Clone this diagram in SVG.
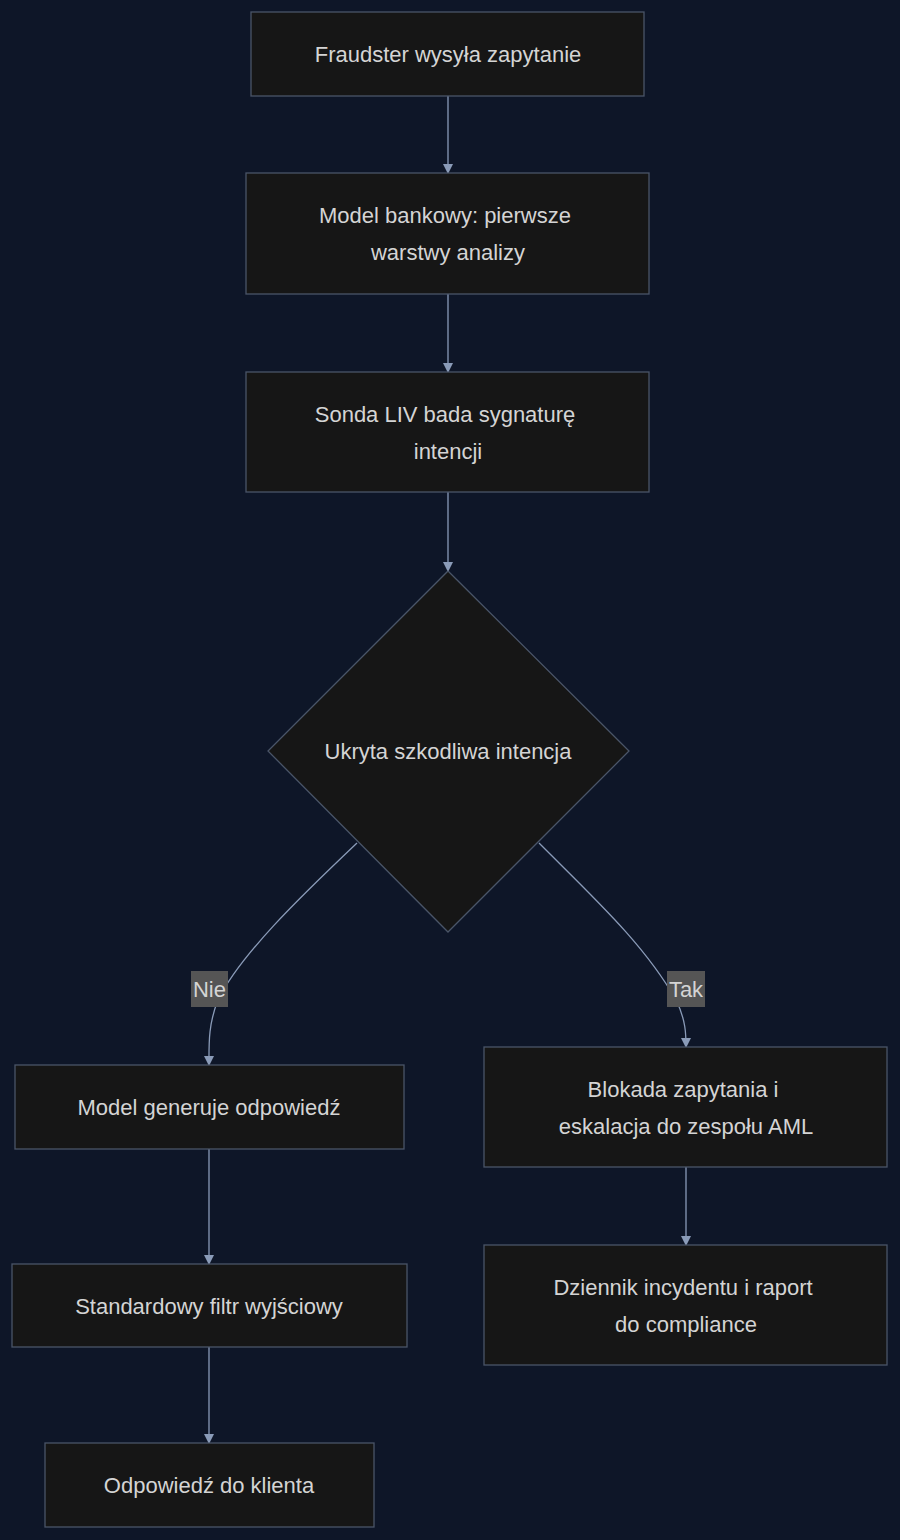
<svg xmlns="http://www.w3.org/2000/svg" width="900" height="1540" viewBox="0 0 900 1540">
<style>
.n{fill:#161616;stroke:#4a5568;stroke-width:1.3}
.t{font-family:"Liberation Sans",Arial,sans-serif;font-size:22px;fill:#d4d4d4;text-anchor:middle;dominant-baseline:central}
.e{fill:none;stroke:#8a9bb8;stroke-width:1.3}
.lb{fill:#555555}
</style>
<defs><marker id="a" viewBox="0 0 10 10" refX="9" refY="5" markerWidth="8" markerHeight="8" orient="auto"><path d="M0,0L10,5L0,10z" fill="#8a9bb8"/></marker></defs>
<rect width="900" height="1540" fill="#0e1628"/>
<g id="edges">
<path class="e" d="M448,96V173" marker-end="url(#a)"/>
<path class="e" d="M448,294V372" marker-end="url(#a)"/>
<path class="e" d="M448,492V571" marker-end="url(#a)"/>
<path class="e" d="M357,843C300,897 240,955 218,1000C208,1025 209,1045 209,1065" marker-end="url(#a)"/>
<path class="e" d="M539,843C595,899 645,945 676,1000C686,1020 686,1035 686,1047" marker-end="url(#a)"/>
<path class="e" d="M209,1149V1264" marker-end="url(#a)"/>
<path class="e" d="M209,1347V1443" marker-end="url(#a)"/>
<path class="e" d="M686,1167V1245" marker-end="url(#a)"/>
<rect class="lb" x="191" y="971" width="37" height="36"/><text class="t" x="209.5" y="989">Nie</text>
<rect class="lb" x="667" y="971" width="38" height="36"/><text class="t" x="686" y="989">Tak</text>
</g>
<g id="n1"><rect class="n" x="251" y="12" width="393" height="84"/><text class="t" x="448" y="54">Fraudster wysyła zapytanie</text></g>
<g id="n2"><rect class="n" x="246" y="173" width="403" height="121"/><text class="t" x="445" y="215">Model bankowy: pierwsze</text><text class="t" x="448" y="252">warstwy analizy</text></g>
<g id="n3"><rect class="n" x="246" y="372" width="403" height="120"/><text class="t" x="445" y="414">Sonda LIV bada sygnaturę</text><text class="t" x="448" y="451">intencji</text></g>
<g id="d"><polygon class="n" points="448,571 629,751 448,932 268,751"/><text class="t" x="448" y="751">Ukryta szkodliwa intencja</text></g>
<g id="n4"><rect class="n" x="15" y="1065" width="389" height="84"/><text class="t" x="209" y="1107">Model generuje odpowiedź</text></g>
<g id="n5"><rect class="n" x="484" y="1047" width="403" height="120"/><text class="t" x="683" y="1089">Blokada zapytania i</text><text class="t" x="686" y="1126">eskalacja do zespołu AML</text></g>
<g id="n6"><rect class="n" x="12" y="1264" width="395" height="83"/><text class="t" x="209" y="1306">Standardowy filtr wyjściowy</text></g>
<g id="n7"><rect class="n" x="45" y="1443" width="329" height="84"/><text class="t" x="209" y="1485">Odpowiedź do klienta</text></g>
<g id="n8"><rect class="n" x="484" y="1245" width="403" height="120"/><text class="t" x="683" y="1287">Dziennik incydentu i raport</text><text class="t" x="686" y="1324">do compliance</text></g>
</svg>
